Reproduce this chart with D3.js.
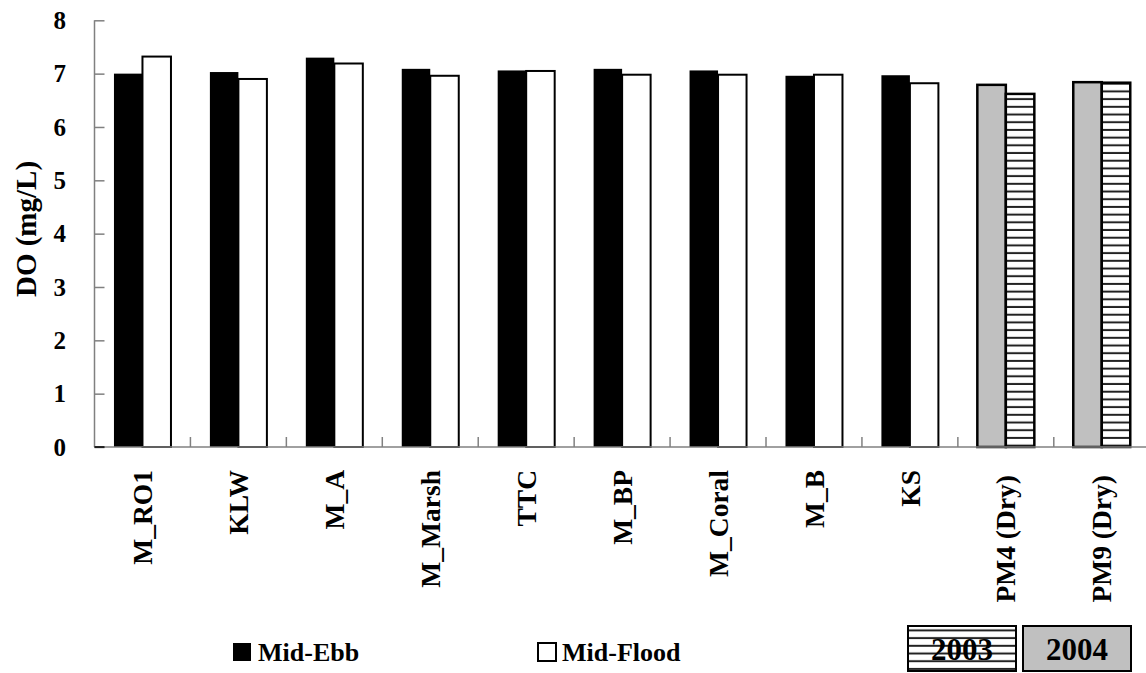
<!DOCTYPE html>
<html><head><meta charset="utf-8">
<script src="https://cdn.jsdelivr.net/npm/d3@7"></script>
<style>body{margin:0;background:#fff}svg{display:block}text{font-family:"Liberation Serif","Times New Roman",serif;font-weight:bold;fill:#000}</style>
</head><body>
<svg id="c" width="1146" height="673"></svg>
<script>
const categories = ["M_RO1","KLW","M_A","M_Marsh","TTC","M_BP","M_Coral","M_B","KS","PM4 (Dry)","PM9 (Dry)"];
const midEbb   = [7.00,7.03,7.30,7.09,7.06,7.09,7.06,6.96,6.97,6.79,6.84];
const midFlood = [7.32,6.90,7.19,6.96,7.05,6.98,6.98,6.98,6.82,6.62,6.83];
const yTicks = [0,1,2,3,4,5,6,7,8];
const seriesNames = ["Mid-Ebb","Mid-Flood"];
const yearLabels = ["2003","2004"];

const svg = d3.select("#c");
const defs = svg.append("defs");
const pat = defs.append("pattern").attr("id","hatch").attr("patternUnits","userSpaceOnUse")
  .attr("width",8).attr("height",7.7);
pat.append("rect").attr("width",8).attr("height",7.7).attr("fill","#fff");
pat.append("rect").attr("y",5.7).attr("width",8).attr("height",2).attr("fill","#222");

const x0 = 94.5, bw = 95.93;
const x = d3.scaleBand().domain(categories).range([x0, x0 + bw*categories.length]).padding(0);
const y = d3.scaleLinear().domain([0,8]).range([447,20.3]);
const groupW = 57;
const xs = d3.scaleBand().domain(seriesNames).range([0,groupW]).padding(0);

const isPM = c => c.startsWith("PM");
const data = [];
categories.forEach((c,i)=>{
  data.push({c, s:"Mid-Ebb", v:midEbb[i]});
  data.push({c, s:"Mid-Flood", v:midFlood[i]});
});
function fillOf(d){
  if (isPM(d.c)) return d.s==="Mid-Ebb" ? "#c0c0c0" : "url(#hatch)";
  return d.s==="Mid-Ebb" ? "#000" : "#fff";
}
svg.append("g").selectAll("rect").data(data).join("rect")
  .attr("x", d => x(d.c) + (x.bandwidth()-groupW)/2 + xs(d.s))
  .attr("y", d => y(d.v))
  .attr("width", xs.bandwidth())
  .attr("height", d => y(0) - y(d.v))
  .attr("fill", fillOf)
  .attr("stroke", d => (d.s==="Mid-Ebb" && !isPM(d.c)) ? "none" : "#000")
  .attr("stroke-width", d => isPM(d.c) ? 2.5 : 2);

// Y axis
const yAxis = svg.append("g").attr("transform",`translate(${x0},0)`)
  .call(d3.axisRight(y).tickValues(yTicks).tickSize(10).tickFormat(""));
yAxis.selectAll("path,line").attr("stroke","#808080").attr("stroke-width",1.5);
yAxis.select(".domain").attr("d",`M0,${y(8)}V${y(0)}`);
svg.append("g").selectAll("text").data(yTicks).join("text")
  .attr("x",66).attr("y",d=>y(d)).attr("dy","0.35em").attr("text-anchor","end")
  .attr("font-size",25).text(d=>d);

// X axis
const xAxisG = svg.append("g");
xAxisG.append("line").attr("x1",x0).attr("x2",1146).attr("y1",y(0)).attr("y2",y(0))
  .attr("stroke","#808080").attr("stroke-width",1.5);
xAxisG.selectAll("line.t").data(categories.slice(1)).join("line").attr("class","t")
  .attr("x1",d=>x(d)).attr("x2",d=>x(d)).attr("y1",y(0)).attr("y2",y(0)-10)
  .attr("stroke","#808080").attr("stroke-width",1.5);
svg.append("line").attr("x1",x0).attr("x2",x0+10).attr("y1",y(0)).attr("y2",y(0)).attr("stroke","#000").attr("stroke-width",1.5);
svg.append("g").selectAll("text").data(categories).join("text")
  .attr("transform",d=>`translate(${x(d)+x.bandwidth()/2},${isPM(d)?475:470}) rotate(-90)`)
  .attr("dy","0.35em").attr("text-anchor","end").attr("font-size",27.5).text(d=>d);

// Y title
svg.append("text").attr("transform","translate(26,229) rotate(-90)").attr("dy","0.35em")
  .attr("text-anchor","middle").attr("font-size",29).text("DO (mg/L)");

// Legend
const leg = [{name:seriesNames[0], fill:"#000", sx:233, tx:258},{name:seriesNames[1], fill:"#fff", sx:538, tx:562}];
leg.forEach(l=>{
  svg.append("rect").attr("x",l.sx).attr("y",643).attr("width",18).attr("height",18)
    .attr("fill",l.fill).attr("stroke","#000").attr("stroke-width",l.fill==="#fff"?2:0);
  svg.append("text").attr("x",l.tx).attr("y",661).attr("font-size",26).text(l.name);
});
const yb = [{t:yearLabels[0], fill:"url(#hatch)", x:908},{t:yearLabels[1], fill:"#c0c0c0", x:1023}];
yb.forEach(b=>{
  svg.append("rect").attr("x",b.x).attr("y",626).attr("width",108).attr("height",45)
    .attr("fill",b.fill).attr("stroke","#000").attr("stroke-width",2);
  svg.append("text").attr("x",b.x+54).attr("y",660).attr("text-anchor","middle")
    .attr("font-size",31).text(b.t);
});
</script>
</body></html>
